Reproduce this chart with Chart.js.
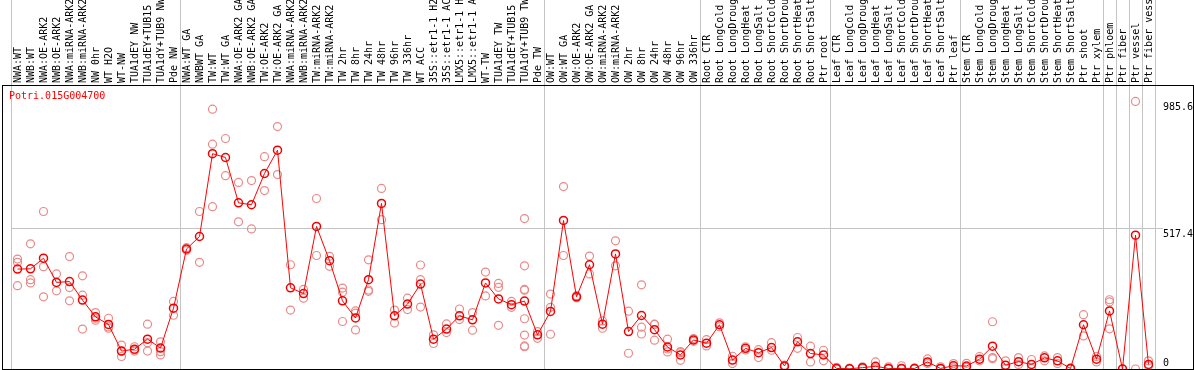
<!DOCTYPE html>
<html>
<head>
<meta charset="utf-8">
<script src="https://cdn.jsdelivr.net/npm/chart.js@4/dist/chart.umd.min.js"></script>
<style>
  html, body { margin: 0; padding: 0; background: #fff; }
  #wrap { position: relative; width: 1194px; height: 370px; overflow: hidden; }
  #chart { display: block; }
  #frame { position: absolute; left: 2px; top: 85px; width: 1192px; height: 285px; box-sizing: border-box; border: 1px solid #000; pointer-events: none; }
  #gene { position: absolute; left: 9px; top: 90px; font: 10px "DejaVu Sans Mono", monospace; color: #f00; }
</style>
</head>
<body>
<div id="wrap">
  <canvas id="chart" width="1194" height="370"></canvas>
  <div id="frame"></div>
  <div id="gene">Potri.015G004700</div>
</div>
<script>
// sample names (top axis)
const labels = [
  "NWA:WT", "NWB:WT", "NWA:OE-ARK2", "NWB:OE-ARK2", "NWA:miRNA-ARK2", "NWB:miRNA-ARK2",
  "NW 0hr", "WT H2O", "WT-NW", "TUA1dEY NW", "TUA1dEY+TUB15 NW", "TUA1dY+TUB9 NW", "Pde NW",
  "NWA:WT GA", "NWBWT GA", "TW:WT", "TW:WT GA", "NWA:OE-ARK2 GA", "NWB:OE-ARK2 GA",
  "TW:OE-ARK2", "TW:OE-ARK2 GA", "NWA:miRNA-ARK2", "NWB:miRNA-ARK2", "TW:miRNA-ARK2", "TW:miRNA-ARK2",
  "TW 2hr", "TW 8hr", "TW 24hr", "TW 48hr", "TW 96hr", "TW 336hr", "WT ACC",
  "35S::etr1-1 H2O", "35S::etr1-1 ACC", "LMX5::etr1-1 H2O", "LMX5::etr1-1 ACC",
  "WT-TW", "TUA1dEY TW", "TUA1dEY+TUB15 TW", "TUA1dY+TUB9 TW", "Pde TW",
  "OW:WT", "OW:WT GA", "OW:OE-ARK2", "OW:OE-ARK2 GA", "OW:miRNA-ARK2", "OW:miRNA-ARK2",
  "OW 2hr", "OW 8hr", "OW 24hr", "OW 48hr", "OW 96hr", "OW 336hr",
  "Root CTR", "Root LongCold", "Root LongDrought", "Root LongHeat", "Root LongSalt",
  "Root ShortCold", "Root ShortDrought", "Root ShortHeat", "Root ShortSalt", "Ptr root",
  "Leaf CTR", "Leaf LongCold", "Leaf LongDrought", "Leaf LongHeat", "Leaf LongSalt",
  "Leaf ShortCold", "Leaf ShortDrought", "Leaf ShortHeat", "Leaf ShortSalt", "Ptr leaf",
  "Stem CTR", "Stem LongCold", "Stem LongDrought", "Stem LongHeat", "Stem LongSalt",
  "Stem ShortCold", "Stem ShortDrought", "Stem ShortHeat", "Stem ShortSalt", "Ptr shoot",
  "Ptr xylem", "Ptr phloem", "Ptr fiber", "Ptr vessel", "Ptr fiber vessel"
];

// mean expression per sample
const means = [
  368, 369, 408, 319, 322, 254, 192, 164, 66, 73, 110, 77, 224,
  442, 488, 793, 779, 612, 605, 720, 806, 299, 278, 525, 399, 251, 188, 329, 610,
  196, 239, 313, 110, 147, 196, 181, 317, 258, 237, 250, 126,
  212, 547, 266, 384, 165, 424, 138, 197, 145, 81, 52, 107,
  95, 163, 33, 76, 60, 79, 11, 100, 57, 52,
  2, 1, 5, 10, 2, 2, 2, 26, 2, 12,
  11, 36, 84, 14, 27, 17, 41, 30, 2, 163, 36,
  214, 0, 493, 17
];

// individual replicates per sample
const replicates = [
  [405, 393, 307], [461, 329, 317], [580, 377, 266], [350, 288], [414, 300, 251],
  [343, 272, 147], [208, 187, 180], [187, 150, 155], [88, 46, 66], [82, 66, 70],
  [165, 97, 66], [100, 64, 52], [249, 198],
  [447, 437], [580, 393], [957, 828, 598], [849, 712], [687, 542], [694, 516],
  [782, 657], [893, 716], [384, 217], [293, 261], [628, 418], [415, 378],
  [298, 283, 175], [214, 144, 206], [402, 291, 286], [665, 550], [217, 169],
  [261, 219], [383, 329, 228], [126, 94], [166, 134], [221, 182], [208, 143],
  [357, 269], [315, 301, 161], [249, 227], [554, 380, 293, 290, 185, 125, 85, 82], [138, 113],
  [276, 227, 128], [672, 418], [270, 262], [416, 350], [177, 150], [472, 380],
  [213, 58], [310, 154, 129], [164, 106, 165], [110, 63, 74], [64, 32, 60], [112, 102],
  [108, 85], [170, 156], [47, 20], [82, 70], [71, 42], [97, 69], [14, 8], [116, 76], [84, 26], [69, 30],
  [6, 0], [3, 0], [8, 2], [26, 4], [8, 0], [12, 0], [4, 0], [37, 20], [8, 0], [20, 4],
  [21, 6], [46, 30], [174, 42, 38], [30, 2], [42, 17], [35, 2], [48, 30], [42, 20], [4, 0], [200, 122], [46, 26],
  [255, 247, 148], [0, 0], [985.6, 0], [30, 11]
];

// first sample of each group (vertical separators)
const groupStarts = [0, 13, 41, 53, 63, 73, 84, 85, 86, 87];
const yTicks = [0, 517.4, 985.6];
const yGridAt = 517.4;

const repPoints = [];
replicates.forEach((vals, i) => {
  vals.forEach(v => repPoints.push({ x: i, y: v }));
});

const monoFont = { family: "'DejaVu Sans Mono', monospace", size: 10 };

new Chart(document.getElementById("chart"), {
  type: "line",
  data: {
    labels: labels,
    datasets: [
      {
        label: "mean",
        data: means,
        borderColor: "#ff0000",
        borderWidth: 1,
        pointRadius: 4,
        pointBorderWidth: 1.5,
        pointBorderColor: "#f00000",
        pointBackgroundColor: "rgba(0,0,0,0)",
        tension: 0,
        order: 0
      },
      {
        label: "replicates",
        data: repPoints,
        xAxisID: "xr",
        showLine: false,
        pointRadius: 4,
        pointBorderWidth: 1.2,
        pointBorderColor: "#e98a8a",
        pointBackgroundColor: "rgba(0,0,0,0)",
        order: 1
      }
    ]
  },
  options: {
    responsive: false,
    animation: false,
    layout: { autoPadding: false, padding: { left: 11, right: 0, top: 0, bottom: 1 } },
    plugins: { legend: { display: false }, tooltip: { enabled: false } },
    scales: {
      x: {
        position: "top",
        offset: true,
        grid: {
          offset: true,
          tickLength: 85,
          color: ctx => (ctx.index === undefined || groupStarts.includes(ctx.index)) ? "#c4c4c4" : "rgba(0,0,0,0)"
        },
        border: { display: false },
        ticks: {
          autoSkip: false,
          maxRotation: 90,
          minRotation: 90,
          padding: -83,
          labelOffset: 13,
          color: "#000",
          font: monoFont
        },
        afterFit: s => { s.height = 85; s.paddingLeft = 0; s.paddingRight = 0; }
      },
      xr: { type: "linear", display: false, min: -0.5, max: 87.5 },
      y: {
        position: "right",
        min: 0,
        max: 1046,
        afterBuildTicks: s => { s.ticks = yTicks.map(v => ({ value: v })); },
        grid: {
          tickLength: 8,
          color: ctx => (ctx.tick && ctx.tick.value === yGridAt) ? "#c4c4c4" : "rgba(0,0,0,0)"
        },
        border: { display: false },
        ticks: {
          padding: 0,
          color: "#000",
          font: monoFont,
          // zero sits just above the baseline, the others just below their line
          callback: v => v === 0 ? ["0", ""] : ["", String(v)]
        },
        afterFit: s => { s.width = 39; s.paddingTop = 0; s.paddingBottom = 0; }
      }
    }
  }
});
</script>
</body>
</html>
